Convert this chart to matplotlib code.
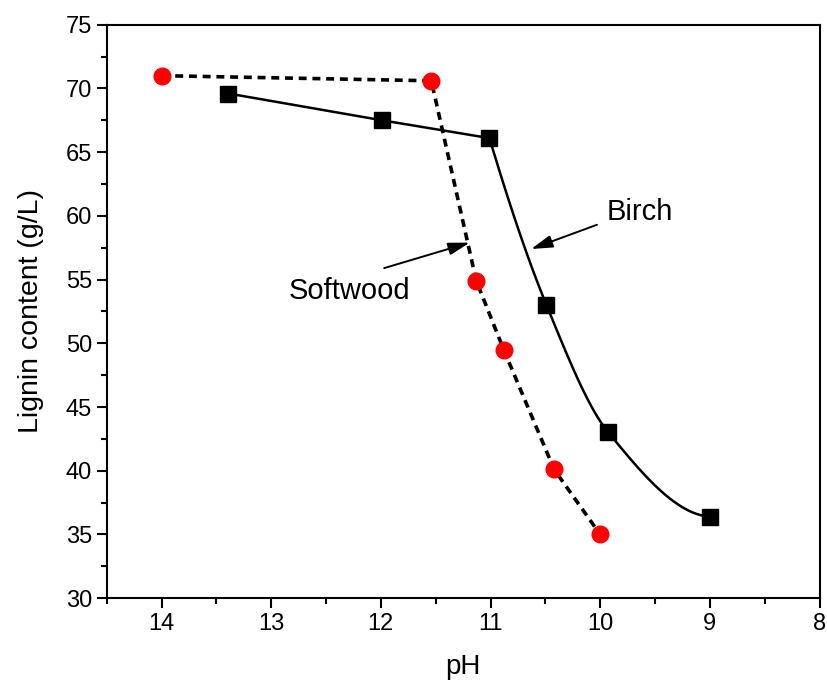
import numpy as np
import matplotlib
matplotlib.use("Agg")
import matplotlib.pyplot as plt
from matplotlib.ticker import MultipleLocator

plt.rcParams['font.family'] = ['Liberation Sans', 'DejaVu Sans']

# Softwood series
softwood_ph = [14.0, 11.54, 11.13, 10.88, 10.42, 10.0]
softwood_lignin = [71.0, 70.6, 54.9, 49.5, 40.1, 35.0]

# Birch series
birch_ph = [13.39, 11.99, 11.01, 10.49, 9.93, 9.0]
birch_lignin = [69.6, 67.5, 66.1, 53.0, 43.05, 36.4]


def pchip(x, y, xs):
    """Monotone cubic Hermite interpolation (Fritsch-Carlson)."""
    x = np.asarray(x, float)
    y = np.asarray(y, float)
    h = np.diff(x)
    d = np.diff(y) / h
    n = len(x)
    m = np.zeros(n)
    for k in range(1, n - 1):
        if d[k - 1] * d[k] > 0:
            w1 = 2 * h[k] + h[k - 1]
            w2 = h[k] + 2 * h[k - 1]
            m[k] = (w1 + w2) / (w1 / d[k - 1] + w2 / d[k])
    m[0] = ((2 * h[0] + h[1]) * d[0] - h[0] * d[1]) / (h[0] + h[1])
    if np.sign(m[0]) != np.sign(d[0]):
        m[0] = 0
    m[-1] = ((2 * h[-1] + h[-2]) * d[-1] - h[-1] * d[-2]) / (h[-1] + h[-2])
    if np.sign(m[-1]) != np.sign(d[-1]):
        m[-1] = 0
    out = np.empty_like(xs)
    for i, xv in enumerate(xs):
        k = np.clip(np.searchsorted(x, xv) - 1, 0, n - 2)
        t = (xv - x[k]) / h[k]
        h00 = 2 * t**3 - 3 * t**2 + 1
        h10 = t**3 - 2 * t**2 + t
        h01 = -2 * t**3 + 3 * t**2
        h11 = t**3 - t**2
        out[i] = h00 * y[k] + h10 * h[k] * m[k] + h01 * y[k + 1] + h11 * h[k] * m[k + 1]
    return out


fig = plt.figure(figsize=(8.27, 6.86), dpi=100)
ax = fig.add_axes([0.129, 0.128, 0.862, 0.836])

# Softwood: dashed straight segments
ax.plot(softwood_ph, softwood_lignin, color='black', lw=2.6, ls=(0, (2.2, 1.6)), zorder=2)
ax.plot(softwood_ph, softwood_lignin, ls='none', marker='o', ms=12,
        mfc='#ff0000', mec='#ff0000', zorder=3)

# Birch: straight plateau then smooth decline
bx = np.asarray(birch_ph)[::-1]
by = np.asarray(birch_lignin)[::-1]
xs_curve = np.linspace(bx[0], bx[3], 200)
ys_curve = pchip(bx[:4], by[:4], xs_curve)
ax.plot(xs_curve, ys_curve, color='black', lw=1.8, zorder=2)
ax.plot(birch_ph[:3], birch_lignin[:3], color='black', lw=1.8, zorder=2)
ax.plot(birch_ph, birch_lignin, ls='none', marker='s', ms=11,
        mfc='black', mec='black', zorder=3)

arrow = dict(arrowstyle='-|>,head_length=1.3,head_width=0.38', color='black', lw=1.4,
             shrinkA=0, shrinkB=0)
ax.annotate('', xy=(10.63, 57.4), xytext=(10.03, 59.3), arrowprops=arrow)
ax.text(9.64, 60.3, 'Birch', fontsize=21, ha='center', va='center')
ax.annotate('', xy=(11.19, 57.9), xytext=(11.97, 55.9), arrowprops=arrow)
ax.text(12.29, 54.1, 'Softwood', fontsize=21, ha='center', va='center')

ax.set_xlim(14.5, 8)
ax.set_ylim(30, 75)
ax.xaxis.set_major_locator(MultipleLocator(1))
ax.xaxis.set_minor_locator(MultipleLocator(0.5))
ax.yaxis.set_major_locator(MultipleLocator(5))
ax.yaxis.set_minor_locator(MultipleLocator(2.5))
ax.tick_params(which='both', direction='out', width=1.5, labelsize=17, top=False, right=False)
ax.tick_params(which='major', length=7)
ax.tick_params(which='minor', length=4)
for s in ax.spines.values():
    s.set_linewidth(1.5)

ax.set_xlabel('pH', fontsize=20, labelpad=14)
ax.set_ylabel('Lignin content (g/L)', fontsize=20.5, labelpad=16)

fig.savefig('out.png', dpi=100)
